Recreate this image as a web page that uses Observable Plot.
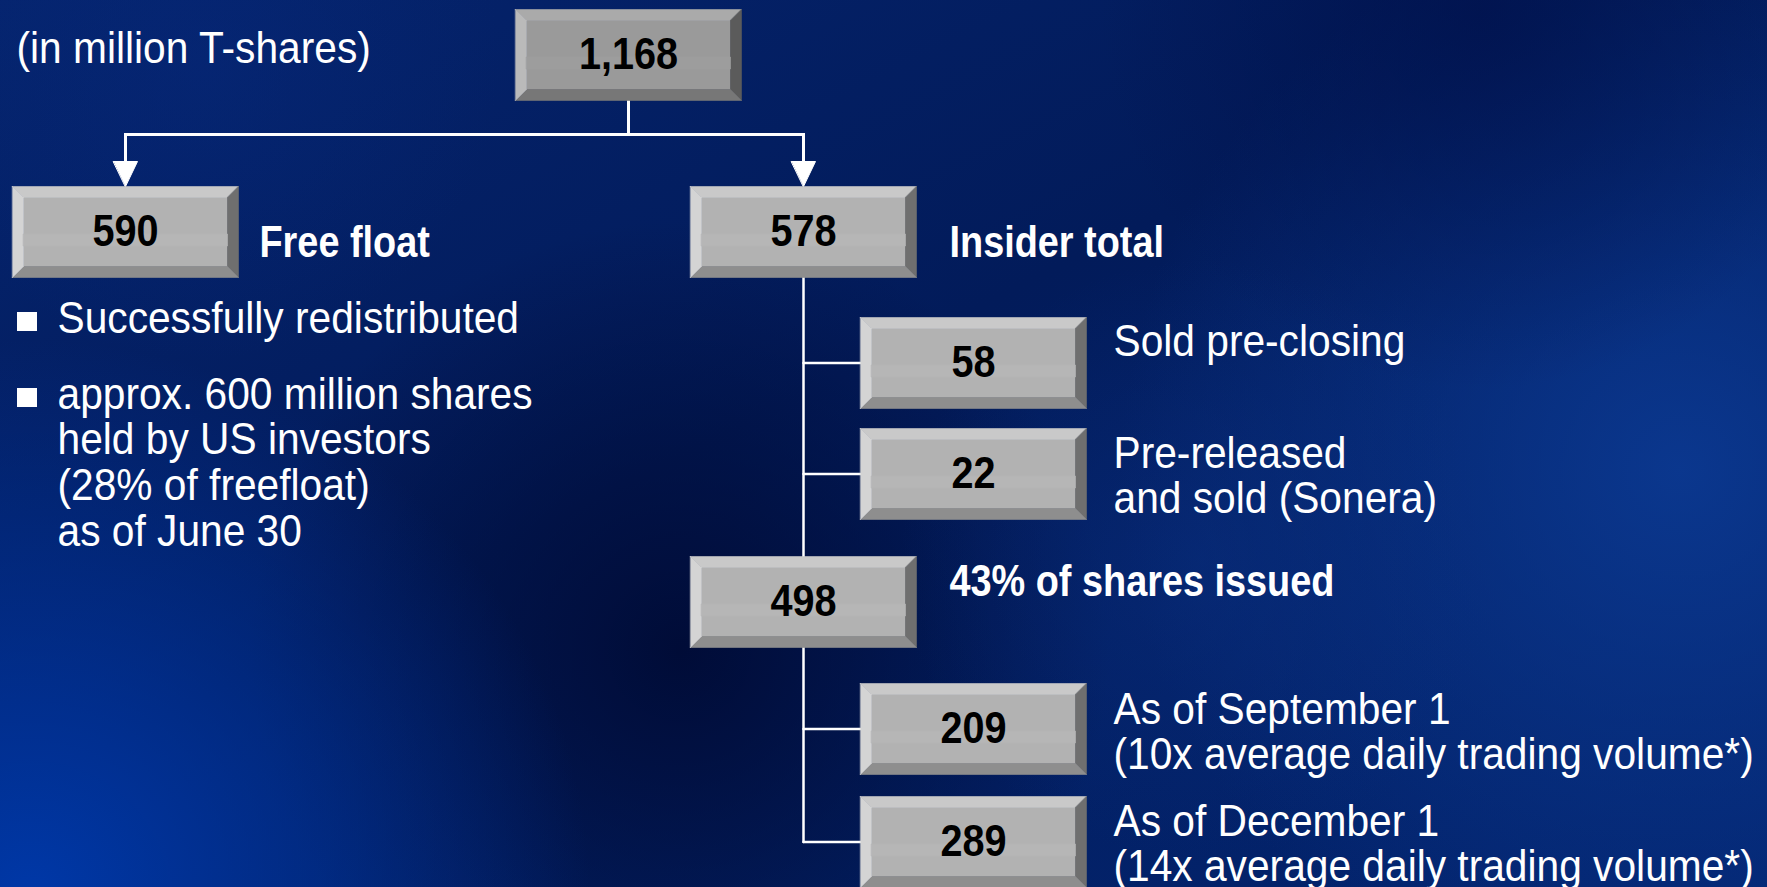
<!DOCTYPE html>
<html><head><meta charset="utf-8">
<script src="https://cdn.jsdelivr.net/npm/d3@7"></script>
<script src="https://cdn.jsdelivr.net/npm/@observablehq/plot@0.6"></script>
<style>
html,body{margin:0;padding:0;background:#021f63;overflow:hidden}
#chart svg{display:block}
</style></head><body><div id="chart"></div>
<script>
const W = 1767, H = 887;

// ---- data: the tree of T-share holdings (million shares) ----
const nodeIds     = ["total", "free", "insider", "preClosing", "sonera", "remaining", "sep", "dec"];
const nodeValues  = ["1,168", "590", "578", "58", "22", "498", "209", "289"];
const nodeParents = [null, "total", "total", "insider", "insider", "insider", "remaining", "remaining"];

// node labels (beside the boxes)
const labelNodes = ["free", "insider", "preClosing", "sonera", "remaining", "sep", "dec"];
const labelTexts = [
  "Free float",
  "Insider total",
  "Sold pre-closing",
  "Pre-released\nand sold (Sonera)",
  "43% of shares issued",
  "As of September 1\n(10x average daily trading volume*)",
  "As of December 1\n(14x average daily trading volume*)"
];
const labelBold = [true, true, false, false, true, false, false];

const unitNote = "(in million T-shares)";
const bulletTexts = [
  "Successfully redistributed",
  "approx. 600 million shares\nheld by US investors\n(28% of freefloat)\nas of June 30"
];

// ---- layout (diagram grid, in pixel units) ----
const nodeCenterX = [628, 125, 803, 973, 973, 803, 973, 973];
const nodeTop     = [9, 186, 186, 317, 428, 556, 683, 796];
const BOX_W = 226, BOX_H = 91, BEVEL = 11;
const ELBOW = 34, ARROW_LEN = 25, ARROW_HALF = 12;
const FS = 44, LH = 1.04;
const FONT = "'Liberation Sans',Arial,sans-serif";

const nodes = nodeIds.map((id, i) => ({
  id, value: nodeValues[i], parent: nodeParents[i],
  cx: nodeCenterX[i], top: nodeTop[i],
  x0: nodeCenterX[i] - BOX_W / 2, x1: nodeCenterX[i] + BOX_W / 2,
  y0: nodeTop[i], y1: nodeTop[i] + BOX_H, cy: nodeTop[i] + BOX_H / 2
}));
const byId = Object.fromEntries(nodes.map(n => [n.id, n]));

// bevel polygons
const palNormal = {top: "#c9c9c9", left: "#d4d4d4", right: "#6f6f6f", bottom: "#8e8e8e", face: "#b2b2b2", band: "#b6b6b6"};
const palRoot   = {top: "#aaaaaa", left: "#bababa", right: "#5b5b5b", bottom: "#777777", face: "#9a9a9a", band: "#9d9d9d"};
const polys = [];
nodes.forEach(n => {
  const p = n.parent === null ? palRoot : palNormal;
  const {x0, x1, y0, y1} = n, b = BEVEL;
  const add = (name, pts) => pts.forEach(([x, y]) => polys.push({poly: n.id + name, x, y, color: p[name]}));
  add("face", [[x0 + b, y0 + b], [x1 - b, y0 + b], [x1 - b, y1 - b], [x0 + b, y1 - b]]);
  add("top", [[x0, y0], [x1, y0], [x1 - b, y0 + b], [x0 + b, y0 + b]]);
  add("right", [[x1, y0], [x1, y1], [x1 - b, y1 - b], [x1 - b, y0 + b]]);
  add("bottom", [[x0, y1], [x1, y1], [x1 - b, y1 - b], [x0 + b, y1 - b]]);
  add("left", [[x0, y0], [x0 + b, y0 + b], [x0 + b, y1 - b], [x0, y1]]);
  const my = (y0 + y1) / 2;
  add("band", [[x0 + b, my + 2], [x1 - b, my + 2], [x1 - b, my + 14], [x0 + b, my + 14]]);
});

// connectors
const arrowSegs = [], treeSegs = [], heads = [];
nodes.filter(n => n.parent === null).forEach(root => {
  const kids = nodes.filter(k => k.parent === root.id);
  const ey = root.y1 + ELBOW;
  arrowSegs.push({seg: "stem", x: root.cx, y: root.y1}, {seg: "stem", x: root.cx, y: ey});
  const xs = kids.map(k => k.cx);
  arrowSegs.push({seg: "bar", x: d3.min(xs), y: ey}, {seg: "bar", x: d3.max(xs), y: ey});
  kids.forEach(k => {
    arrowSegs.push({seg: "d" + k.id, x: k.cx, y: ey}, {seg: "d" + k.id, x: k.cx, y: k.y0 - ARROW_LEN + 2});
    heads.push({h: k.id, x: k.cx - ARROW_HALF, y: k.y0 - ARROW_LEN}, {h: k.id, x: k.cx + ARROW_HALF, y: k.y0 - ARROW_LEN}, {h: k.id, x: k.cx, y: k.y0});
  });
});
nodes.filter(n => n.parent && nodes.some(k => k.parent === n.id)).forEach(par => {
  const kids = nodes.filter(k => k.parent === par.id);
  const ends = kids.map(k => k.cx === par.cx ? k.y0 : k.cy);
  treeSegs.push({seg: "trunk" + par.id, x: par.cx, y: par.y1}, {seg: "trunk" + par.id, x: par.cx, y: d3.max(ends)});
  kids.filter(k => k.cx !== par.cx).forEach(k => {
    treeSegs.push({seg: "br" + k.id, x: par.cx, y: k.cy}, {seg: "br" + k.id, x: k.x0, y: k.cy});
  });
});

// labels beside nodes; y = baseline of last line
const labelOffsets = { // baseline of the first line relative to box top
  free: 70, insider: 70, preClosing: 38, sonera: 39, remaining: 39, sep: 40, dec: 39
};
const labelGap = {free: 21, insider: 33, preClosing: 27, sonera: 27, remaining: 33, sep: 27, dec: 27};
const labels = labelNodes.map((id, i) => {
  const n = byId[id];
  const lines = labelTexts[i].split("\n").length;
  return {
    text: labelTexts[i], bold: labelBold[i],
    x: n.x1 + labelGap[id],
    y: n.y0 + labelOffsets[id] + (lines - 1) * FS * LH
  };
});

const bulletFirstBaselines = [332, 408];
const bullets = bulletTexts.map((t, i) => ({
  text: t,
  x: 57,
  y: bulletFirstBaselines[i] + (t.split("\n").length - 1) * FS * LH,
  sq: bulletFirstBaselines[i]
}));

const plot = Plot.plot({
  width: W, height: H,
  margin: 0,
  style: {background: "transparent"},
  x: {type: "linear", domain: [0, W], range: [0, W], axis: null},
  y: {type: "linear", domain: [0, H], range: [0, H], axis: null},
  color: {type: "identity"},
  marks: [
    Plot.line(arrowSegs, {x: "x", y: "y", z: "seg", stroke: "white", strokeWidth: 3, strokeLinecap: "square"}),
    Plot.line(heads, {x: "x", y: "y", z: "h", fill: "white", stroke: "white", strokeWidth: 1, curve: "linear-closed"}),
    Plot.line(treeSegs, {x: "x", y: "y", z: "seg", stroke: "white", strokeWidth: 2.5}),
    Plot.line(polys, {x: "x", y: "y", z: "poly", fill: "color", stroke: "color", strokeWidth: 0.6, curve: "linear-closed"}),
    Plot.text(nodes, {x: "cx", y: "cy", text: "value", fill: "black", fontSize: FS, fontWeight: "bold", fontFamily: FONT, textAnchor: "middle", lineAnchor: "middle"}),
    Plot.text([unitNote], {x: 16, y: 62, text: d => d, fill: "white", fontSize: FS, fontFamily: FONT, textAnchor: "start", lineAnchor: "bottom"}),
    Plot.text(labels.filter(l => !l.bold), {x: "x", y: "y", text: "text", fill: "white", fontSize: FS, lineHeight: LH, fontFamily: FONT, textAnchor: "start", lineAnchor: "bottom"}),
    Plot.text(labels.filter(l => l.bold), {x: "x", y: "y", text: "text", fill: "white", fontSize: FS, fontWeight: "bold", fontFamily: FONT, textAnchor: "start", lineAnchor: "bottom"}),
    Plot.rect(bullets, {x1: 17, x2: 37, y1: d => d.sq - 20, y2: d => d.sq - 1, fill: "white"}),
    Plot.text(bullets, {x: "x", y: "y", text: "text", fill: "white", fontSize: FS, lineHeight: LH, fontFamily: FONT, textAnchor: "start", lineAnchor: "bottom"})
  ]
});
document.getElementById("chart").appendChild(plot);

// background gradient (decorative)
const svg = d3.select(plot);
const defs = svg.insert("defs", ":first-child");
const lin = defs.append("linearGradient").attr("id", "bgLin").attr("x1", 0).attr("y1", 0).attr("x2", 1).attr("y2", 1);
[[0, "#05246e"], [0.45, "#021b5a"], [1, "#032570"]].forEach(([o, c]) => lin.append("stop").attr("offset", o).attr("stop-color", c));
const radials = [
  ["r1", 680, 650, 430, "#000a33", 0.9],
  ["r2", 30, 900, 560, "#0038a8", 1],
  ["r3", 1680, 470, 560, "#0c3b95", 0.85],
  ["r4", 1480, 10, 380, "#00104a", 0.7],
  ["r5", 1200, 560, 300, "#0a2f80", 0.5],
  ["r6", 200, 60, 300, "#06287a", 0.5]
];
radials.forEach(([id, cx, cy, r, c, op]) => {
  const g = defs.append("radialGradient").attr("id", id).attr("gradientUnits", "userSpaceOnUse")
    .attr("cx", cx).attr("cy", cy).attr("r", r);
  g.append("stop").attr("offset", 0).attr("stop-color", c).attr("stop-opacity", op);
  g.append("stop").attr("offset", 1).attr("stop-color", c).attr("stop-opacity", 0);
});
const bg = svg.insert("g", "defs + *");
bg.append("rect").attr("width", W).attr("height", H).attr("fill", "url(#bgLin)");
radials.forEach(([id]) => bg.append("rect").attr("width", W).attr("height", H).attr("fill", `url(#${id})`));

// condense the face horizontally to match the original narrow typeface
const STRETCH = {values: 0.9, regular: 0.925, bold: 0.86};
svg.selectAll("text").each(function () {
  const cs = getComputedStyle(this);
  const isBlack = cs.fill === "rgb(0, 0, 0)" || cs.fill === "black";
  const isBold = parseInt(cs.fontWeight) >= 600 || cs.fontWeight === "bold";
  const k = isBlack ? STRETCH.values : isBold ? STRETCH.bold : STRETCH.regular;
  const spans = this.querySelectorAll("tspan");
  const els = spans.length ? Array.from(spans) : [this];
  els.forEach(el => {
    const len = el.getComputedTextLength();
    if (len > 0) {
      el.setAttribute("textLength", (len * k).toFixed(1));
      el.setAttribute("lengthAdjust", "spacingAndGlyphs");
    }
  });
});
</script></body></html>
